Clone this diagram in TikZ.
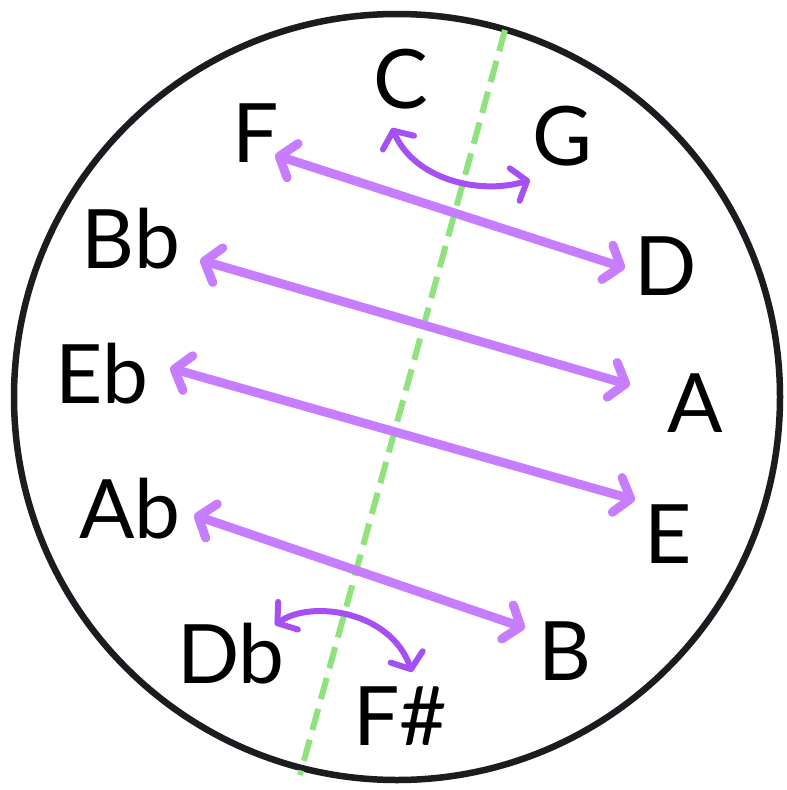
\documentclass[tikz,border=0pt]{standalone}
\usepackage{fontspec}
\setmainfont{Lato}
\usetikzlibrary{arrows.meta}
\definecolor{ring}{HTML}{1C1B20}
\definecolor{axis}{HTML}{90E27E}
\definecolor{lilac}{HTML}{C77DFF}
\definecolor{violet}{HTML}{A550F5}
\tikzset{
  note/.style={anchor=base, inner sep=0pt, font=\fontsize{82}{90}\selectfont, text=black},
  pair/.style={draw=lilac, line width=9pt, line cap=round,
    {Straight Barb[length=14pt, width=36pt, line cap=round, line join=round]}-{Straight Barb[length=14pt, width=36pt, line cap=round, line join=round]}},
  swap/.style={draw=violet, line width=6pt, line cap=round,
    {Straight Barb[length=13pt, width=34pt, line cap=round, line join=round]}-{Straight Barb[length=13pt, width=34pt, line cap=round, line join=round]}},
  axisline/.style={draw=axis, line width=6pt, dash pattern=on 22pt off 10pt},
  rim/.style={draw=ring, line width=6.5pt}
}
\begin{document}
\begin{tikzpicture}[x=1pt, y=-1pt]
\useasboundingbox (0,0) rectangle (787,790);
\fill[white] (0,0) rectangle (787,790);
\node[rim, circle, minimum size=766pt, inner sep=0pt] (rimc) at (397,397) {};
% axis
\coordinate (axtop) at (505,30);
\coordinate (axbot) at (300,775);
\draw[axisline] (axtop) -- (axbot);
% labels
\node[note] (C) at (401,108) {C};
\node[note] (F) at (256,162) {F};
\node[note] (G) at (562,165) {G};
\node[note] (Bb) at (131,268) {Bb};
\node[note] (D) at (666,295) {D};
\node[note] (Eb) at (102,403) {Eb};
\node[note] (A) at (695,432) {A};
\node[note] (Ab) at (130,538) {Ab};
\node[note] (E) at (668,563) {E};
\node[note] (Db) at (231,683) {Db};
\node[note] (B) at (565,680) {B};
\node[note] (Fs) at (400,745) {F\#};
% arrow ends
\coordinate (f1) at (275,155); \coordinate (d1) at (625,268);
\coordinate (bb1) at (200,260); \coordinate (a1) at (630,385);
\coordinate (eb1) at (170,368); \coordinate (e1) at (635,500);
\coordinate (ab1) at (194,515); \coordinate (b1) at (525,628);
\coordinate (c1) at (392,128); \coordinate (g1) at (530,180);
\coordinate (db1) at (275,625); \coordinate (fs1) at (412,672);
\draw[pair] (f1) -- (d1);
\draw[pair] (bb1) -- (a1);
\draw[pair] (eb1) -- (e1);
\draw[pair] (ab1) -- (b1);
\draw[swap] (c1) .. controls (415,180) and (480,195) .. (g1);
\draw[swap] (db1) .. controls (310,600) and (390,610) .. (fs1);
\end{tikzpicture}
\end{document}
